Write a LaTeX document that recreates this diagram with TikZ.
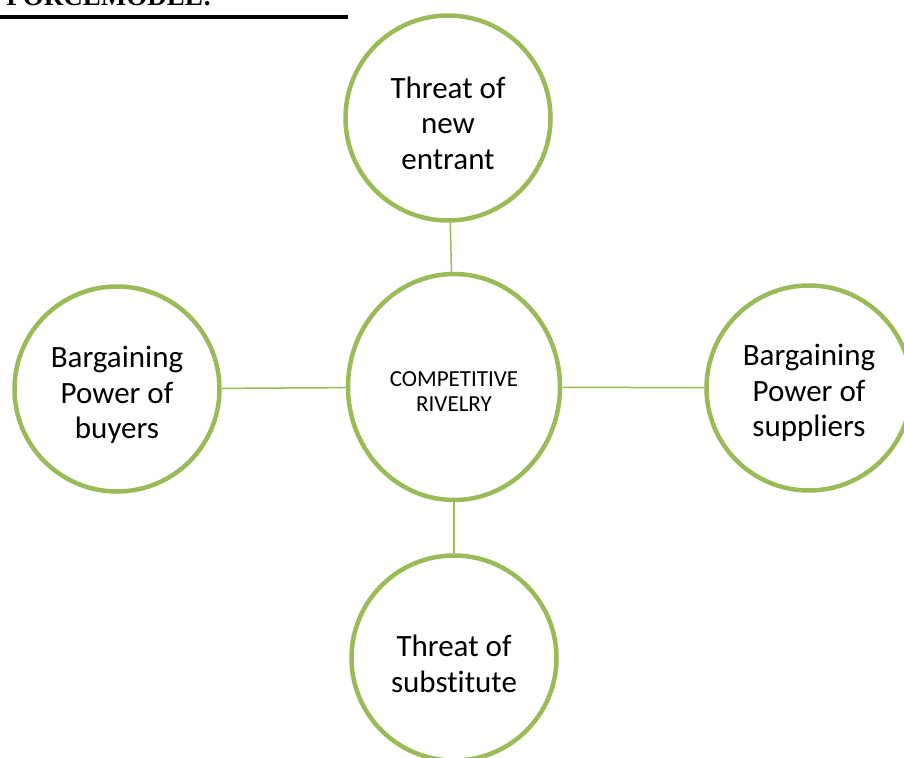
\documentclass[tikz,border=0pt]{standalone}
\usepackage{fontspec}
\setmainfont{Carlito}[RawFeature=-liga]
\newfontfamily\headfont{Liberation Serif}
\usetikzlibrary{shapes.geometric}
\definecolor{forcegreen}{HTML}{9BBB59}
\tikzset{
  forcecirc/.style={circle, draw=forcegreen, line width=4.5pt, fill=white, minimum size=205pt, inner sep=0pt},
  forcetext/.style={inner sep=0pt, align=center, font=\fontsize{31}{35.5}\selectfont},
  conn/.style={draw=forcegreen, line width=1.5pt},
}
\begin{document}
\begin{tikzpicture}[x=1pt,y=-1pt]
\useasboundingbox (0,0) rectangle (904,757);
\clip (0,0) rectangle (904,757);
\fill[white] (0,0) rectangle (904,757);
% header
\node[anchor=base east, inner sep=0pt, font=\headfont\bfseries\fontsize{27}{30}\selectfont] (head) at (212,6) {FORCEMODEL:};
\draw[line width=4pt] (0,17) -- (348,17);
% circles
\node[ellipse, draw=forcegreen, line width=4.5pt, fill=white, minimum width=212pt, minimum height=226pt, inner sep=0pt] (center) at (454,387) {};
\node[forcecirc] (top) at (448,118) {};
\node[forcecirc] (left) at (117,389) {};
\node[forcecirc] (right) at (809,388) {};
\node[forcecirc] (bottom) at (454,658) {};
% texts
\node[inner sep=0pt, align=center, font=\fontsize{23}{25}\selectfont] (centertext) at ([yshift=-5pt]center.center) {COMPETITIVE\\RIVELRY};
\node[forcetext] (toptext) at ([yshift=-5pt]top.center) {Threat of\\new\\entrant};
\node[forcetext] (lefttext) at ([yshift=-6pt]left.center) {Bargaining\\Power of\\buyers};
\node[forcetext] (righttext) at ([yshift=-5pt]right.center) {Bargaining\\Power of\\suppliers};
\node[forcetext] (bottomtext) at ([yshift=-6pt]bottom.center) {Threat of\\substitute};
% connectors
\draw[conn] (top) -- (center);
\draw[conn] (left) -- (center);
\draw[conn] (right) -- (center);
\draw[conn] (bottom) -- (center);
\end{tikzpicture}
\end{document}
